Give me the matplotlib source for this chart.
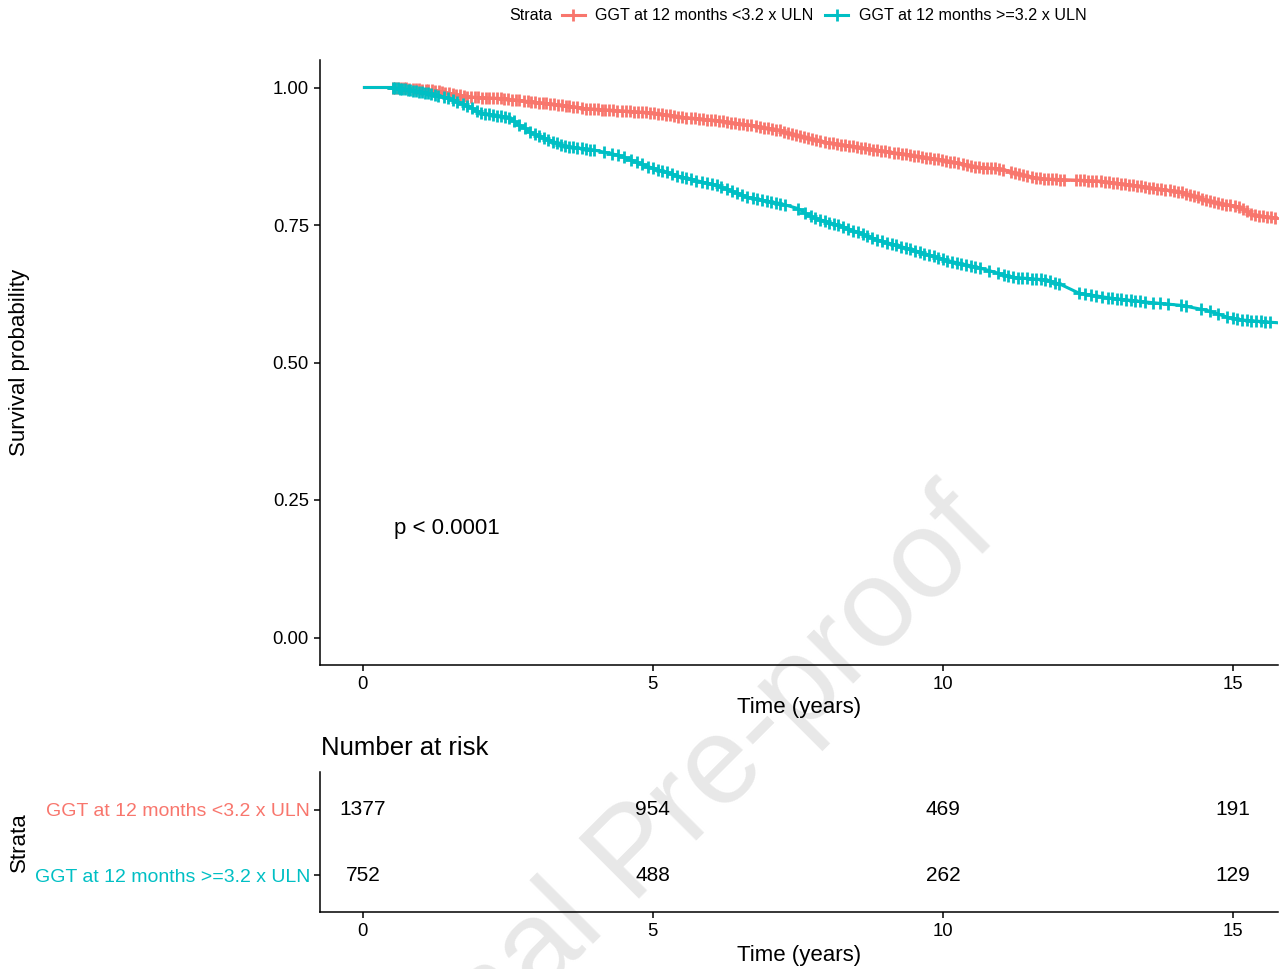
import matplotlib
matplotlib.use("Agg")
import matplotlib.pyplot as plt
from matplotlib.lines import Line2D
import numpy as np

plt.rcParams['font.family'] = ['Liberation Sans', 'DejaVu Sans']

# ---- data -----------------------------------------------------------------
group_labels = ["GGT at 12 months <3.2 x ULN", "GGT at 12 months >=3.2 x ULN"]
group_colors = ["#F8766D", "#00BFC4"]

# Kaplan-Meier estimate (time in years, survival probability)
low_time = [0, 0.5, 1.2, 1.8, 2.4, 2.9, 3.5, 3.8, 4.4, 5.0, 5.5, 6.1, 6.7, 7.2,
            7.5, 8.0, 8.5, 9.0, 9.5, 10.0, 10.3, 10.6, 11.0, 11.5, 11.7, 12.7,
            13.3, 13.5, 14.1, 14.65, 15.1, 15.35, 15.8]
low_surv = [1.0, 1.0, 0.995, 0.983, 0.980, 0.974, 0.967, 0.962, 0.958, 0.954,
            0.946, 0.940, 0.931, 0.922, 0.912, 0.900, 0.892, 0.884, 0.876, 0.868,
            0.862, 0.855, 0.852, 0.838, 0.834, 0.830, 0.822, 0.819, 0.810, 0.792,
            0.783, 0.768, 0.762]

high_time = [0, 0.5, 1.0, 1.5, 1.8, 2.05, 2.5, 2.9, 3.2, 3.5, 4.0, 4.4, 4.95,
             5.5, 6.1, 6.65, 7.2, 7.5, 7.75, 8.3, 8.9, 9.5, 10.05, 10.6, 11.2,
             11.8, 12.05, 12.35, 12.9, 13.5, 14.1, 14.55, 14.95, 15.2, 15.8]
high_surv = [1.0, 1.0, 0.992, 0.980, 0.967, 0.953, 0.946, 0.918, 0.905, 0.893,
             0.886, 0.877, 0.855, 0.837, 0.822, 0.800, 0.789, 0.780, 0.764, 0.746,
             0.722, 0.704, 0.686, 0.673, 0.655, 0.650, 0.641, 0.626, 0.617, 0.610,
             0.604, 0.595, 0.581, 0.577, 0.572]

# censoring times (years)
low_censor = [
    0.52, 0.56, 0.61, 0.66, 0.70, 0.75, 0.80, 0.86, 0.91, 0.97,
    1.02, 1.08, 1.13, 1.19, 1.25, 1.31, 1.36, 1.42, 1.48, 1.55, 1.61, 1.67,
    1.74, 1.80, 1.86, 1.93, 1.99,
    2.05, 2.12, 2.18, 2.25, 2.31, 2.38, 2.44, 2.51, 2.57, 2.64, 2.70, 2.77,
    2.84, 2.90, 2.97,
    3.03, 3.10, 3.16, 3.23, 3.30, 3.36, 3.43, 3.50, 3.56, 3.63, 3.70, 3.77,
    3.84, 3.91, 3.98,
    4.05, 4.12, 4.18, 4.25, 4.32, 4.39, 4.46, 4.53, 4.60, 4.67, 4.74, 4.81,
    4.88, 4.95,
    5.02, 5.09, 5.16, 5.23, 5.30, 5.37, 5.44, 5.51, 5.58, 5.65, 5.72, 5.79,
    5.86, 5.93,
    6.00, 6.07, 6.14, 6.21, 6.28, 6.35, 6.42, 6.49, 6.56, 6.63, 6.70, 6.77,
    6.84, 6.91, 6.98,
    7.05, 7.12, 7.19, 7.26, 7.33, 7.40, 7.47, 7.54, 7.61, 7.68, 7.75, 7.82,
    7.89, 7.96,
    8.03, 8.10, 8.17, 8.24, 8.31, 8.38, 8.45, 8.52, 8.59, 8.66, 8.73, 8.80,
    8.87, 8.94,
    9.01, 9.08, 9.15, 9.22, 9.29, 9.36, 9.43, 9.50, 9.57, 9.64, 9.71, 9.78,
    9.85, 9.92, 9.99,
    10.06, 10.13, 10.20, 10.27, 10.34, 10.41, 10.48, 10.55, 10.62, 10.69,
    10.76, 10.83, 10.90, 10.97,
    11.04, 11.18, 11.25, 11.32, 11.39, 11.46, 11.53, 11.60, 11.67, 11.74,
    11.81, 11.88, 11.95,
    12.02, 12.09, 12.30, 12.37, 12.44, 12.51, 12.58, 12.65, 12.72, 12.79,
    12.86, 12.93,
    13.00, 13.07, 13.14, 13.21, 13.28, 13.35, 13.42, 13.49, 13.56, 13.63,
    13.70, 13.77, 13.84, 13.91, 13.98,
    14.05, 14.12, 14.19, 14.26, 14.33, 14.40, 14.47, 14.54, 14.61, 14.68,
    14.75, 14.82, 14.89, 14.96,
    15.03, 15.10, 15.17, 15.24, 15.31, 15.38, 15.45, 15.52, 15.59, 15.66,
    15.73]
high_censor = [
    0.52, 0.56, 0.60, 0.64, 0.68, 0.72, 0.77, 0.82, 0.87, 0.92, 0.97, 1.02,
    1.07, 1.12, 1.18, 1.24, 1.30,
    1.40, 1.47, 1.55, 1.63, 1.72, 1.80, 1.88, 1.96, 2.03, 2.10, 2.17, 2.24,
    2.31, 2.38, 2.45, 2.52, 2.60,
    2.70, 2.79, 2.88, 2.96, 3.04, 3.12, 3.20, 3.28, 3.35, 3.42, 3.49, 3.56,
    3.63, 3.70, 3.77, 3.84, 3.92, 3.99,
    4.15, 4.30, 4.40, 4.50, 4.62, 4.72, 4.82, 4.92, 5.00, 5.08, 5.16, 5.24,
    5.33, 5.42, 5.50, 5.58, 5.66, 5.75, 5.84, 5.93,
    6.02, 6.10, 6.18, 6.27, 6.36, 6.45, 6.54, 6.63, 6.72, 6.80, 6.88, 6.96,
    7.04, 7.12, 7.20, 7.28, 7.50, 7.62,
    7.72, 7.80, 7.88, 7.96, 8.04, 8.12, 8.20, 8.28, 8.36, 8.45, 8.54, 8.62,
    8.70, 8.78, 8.86, 8.95,
    9.04, 9.12, 9.20, 9.28, 9.36, 9.44, 9.52, 9.60, 9.68, 9.76, 9.84, 9.92,
    10.00, 10.08, 10.16, 10.24, 10.32, 10.40, 10.48, 10.56, 10.64,
    10.80, 10.95, 11.05, 11.13, 11.21, 11.29, 11.37, 11.45, 11.53, 11.61,
    11.69, 11.77, 11.85, 11.93, 12.00,
    12.35, 12.45, 12.55, 12.65, 12.75, 12.85, 12.92, 13.00, 13.08, 13.16,
    13.24, 13.32, 13.40, 13.48,
    13.62, 13.75, 13.88, 14.10, 14.20, 14.45, 14.60, 14.75, 14.90, 15.00,
    15.08, 15.16, 15.24, 15.32, 15.40, 15.48, 15.56, 15.64]

risk_times = [0, 5, 10, 15]
risk_low = [1377, 954, 469, 191]
risk_high = [752, 488, 262, 129]

p_text = "p < 0.0001"

# ---- figure ---------------------------------------------------------------
W, H = 1281, 969
fig = plt.figure(figsize=(W / 100, H / 100), dpi=100)


def fx(px):
    return px / W


def fy(py):
    return 1 - py / H


# watermark behind everything
fig.text(fx(636), fy(856), "Journal Pre-proof", fontsize=90, color="#e8e8e8",
         rotation=45, ha="center", va="center", rotation_mode="anchor",
         zorder=-5)

x_min, x_max = -0.74, 15.78

# survival curves
ax = fig.add_axes([fx(320), fy(665), fx(1278) - fx(320), fy(60) - fy(665)])
ax.patch.set_alpha(0)
curves = [(low_time, low_surv, low_censor), (high_time, high_surv, high_censor)]
for (t, s, c), col in zip(curves, group_colors):
    ax.plot(t, s, color=col, lw=2.2, solid_capstyle="butt", zorder=3)
    ax.plot(c, np.interp(c, t, s), ls="none", marker="+", ms=8.5, mew=2,
            color=col, zorder=3)

ax.set_xlim(x_min, x_max)
ax.set_ylim(-0.05, 1.05)
ax.set_xticks(risk_times)
ax.set_yticks([0, 0.25, 0.5, 0.75, 1.0])
ax.set_yticklabels(["0.00", "0.25", "0.50", "0.75", "1.00"])
for side in ("top", "right"):
    ax.spines[side].set_visible(False)
for side in ("left", "bottom"):
    ax.spines[side].set_linewidth(1.1)
ax.tick_params(labelsize=13.3, length=4, width=1.1, pad=4, colors="black")
ax.text(0.53, 0.198, p_text, fontsize=16, ha="left", va="center")

fig.text(fx(20), fy(362), "Survival probability", fontsize=16, rotation=90,
         ha="center", va="center")
fig.text(fx(799), fy(707), "Time (years)", fontsize=16, ha="center", va="center")

# legend across the top
fig.text(fx(509), fy(16), "Strata", fontsize=11.6, ha="left", va="center")
handles = [Line2D([], [], color=c, lw=2.2, marker="+", ms=8.5, mew=2)
           for c in group_colors]
fig.legend(handles, group_labels, loc="center left",
           bbox_to_anchor=(fx(562), fy(16)), ncol=2, frameon=False,
           fontsize=11.6, handlelength=1.4, handletextpad=0.65,
           columnspacing=0.75, borderpad=0, borderaxespad=0)

# number at risk table
fig.text(fx(321), fy(748), "Number at risk", fontsize=18.5, ha="left",
         va="center")
rt = fig.add_axes([fx(320), fy(912), fx(1278) - fx(320), fy(772) - fy(912)])
rt.patch.set_alpha(0)
rows = [2, 1]
for row, counts in zip(rows, [risk_low, risk_high]):
    for t, n in zip(risk_times, counts):
        rt.text(t, row, str(n), fontsize=15, ha="center", va="center")
rt.set_xlim(x_min, x_max)
rt.set_ylim(0.433, 2.583)
rt.set_xticks(risk_times)
rt.set_yticks(rows)
rt.set_yticklabels(group_labels)
for lab, col in zip(rt.get_yticklabels(), group_colors):
    lab.set_color(col)
for side in ("top", "right"):
    rt.spines[side].set_visible(False)
for side in ("left", "bottom"):
    rt.spines[side].set_linewidth(1.1)
rt.tick_params(axis="x", labelsize=13.3, length=4, width=1.1, pad=4)
rt.tick_params(axis="y", labelsize=14, length=4, width=1.1, pad=3)
fig.text(fx(19), fy(842), "Strata", fontsize=16, rotation=90, ha="center",
         va="center")
fig.text(fx(799), fy(955), "Time (years)", fontsize=16, ha="center",
         va="center")

fig.savefig("out.png", dpi=100)
